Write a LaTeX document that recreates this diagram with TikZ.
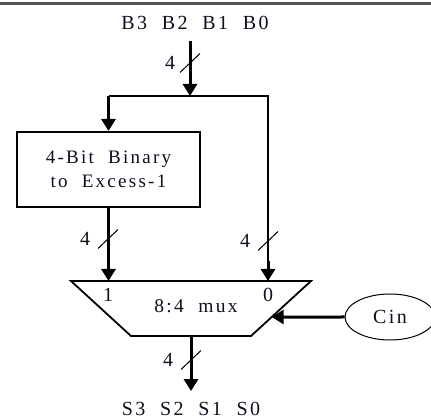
\documentclass[tikz,border=0pt]{standalone}
\usepackage{fontspec}
\setmainfont{Liberation Serif}
\newfontfamily\spacedfont[LetterSpace=12,WordSpace=2]{Liberation Serif}
\usetikzlibrary{shapes.geometric, arrows.meta, positioning, calc}
\definecolor{InkBlack}{RGB}{15, 15, 30}
\definecolor{RuleGray}{RGB}{85, 85, 85}

\begin{document}
\begin{tikzpicture}[
        x=1pt, y=-1pt,
        lbl/.style={font=\spacedfont\fontsize{20}{24}\selectfont, text=InkBlack, inner sep=2pt},
        block/.style={lbl, font=\spacedfont\fontsize{19}{24}\selectfont, draw=black, line width=2pt, fill=white, minimum width=183pt, minimum height=75pt, align=center, inner sep=0pt},
        bus/.style={-{Triangle[width=14pt,length=12pt]}, line width=3pt},
        wire/.style={line width=2.2pt},
        slash/.style={line width=1pt},
        port/.style={lbl, ellipse, draw=black, line width=1pt, minimum width=90pt, minimum height=46pt}
    ]
        \useasboundingbox (0,0) rectangle (431,419);
        \draw[RuleGray, line width=3pt] (0,3.5) -- (431,3.5);

        % inputs and converter
        \node[lbl] (bits) at (195,23) {B3 B2 B1 B0};
        \coordinate (split) at (190,96);
        \node[block] (conv) at (108.5,169.5) {4-Bit Binary\\to Excess-1};

        % multiplexer
        \coordinate (mtl) at (71,281);
        \coordinate (mtr) at (311,281);
        \coordinate (mbr) at (251,336);
        \coordinate (mbl) at (131,336);
        \draw[line width=1.8pt, line join=miter] (mtl) -- (mtr) -- (mbr) -- (mbl) -- cycle;
        \node[lbl, font=\spacedfont\fontsize{19.5}{24}\selectfont] (mux) at (196,306) {8:4 mux};
        \node[lbl] (sel1) at (108,295) {1};
        \node[lbl] (sel0) at (268,295) {0};
        \coordinate (in1) at (conv.south |- mtl);
        \coordinate (in0) at (268,281);
        \coordinate (out) at ($(mbl)!0.5!(mbr)$);

        \node[port] (cin) at (390,317) {Cin};
        \coordinate (cinin) at ($(mtr)!0.655!(mbr)$);
        \node[lbl] (sums) at (out |- 0,409) {S3 S2 S1 S0};

        % connectors
        \draw[bus] (bits.south -| split) ++(0,9) -- (split);
        \draw[wire, line join=miter] (conv.north |- split) -- (in0 |- split) -- (in0);
        \draw[bus] (conv.north |- split) -- (conv.north);
        \draw[bus] ($(in0)+(0,-20)$) -- (in0);
        \draw[bus] (conv.south) -- (in1);
        \draw[bus] (cin.west) -- (cinin);
        \draw[bus, shorten >=9pt] (out) -- (sums.north);

        % bus widths
        \foreach \sx/\sy/\lx [count=\i] in {190/63/170, 108/239/85, 268/241/245, 191/360/168} {
            \draw[slash] (\sx-10,\sy+9.5) -- (\sx+10,\sy-9.5);
            \node[lbl] (width\i) at (\lx,\sy) {4};
        }
    \end{tikzpicture}
\end{document}
